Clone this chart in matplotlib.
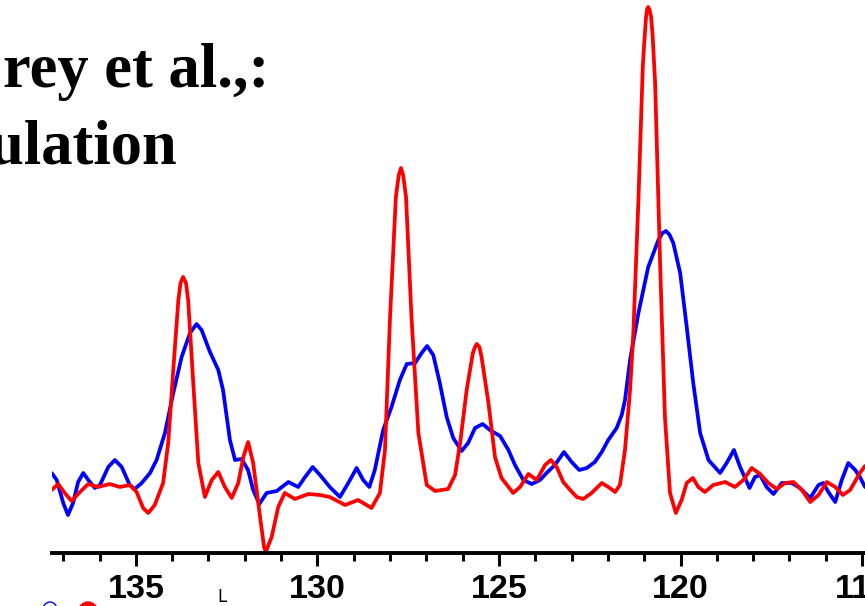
"""
Overlay of two carbon spectra in the 115-137 ppm region
"""

import matplotlib
matplotlib.use("Agg")
import matplotlib.pyplot as plt
from matplotlib.patches import Ellipse

# chemical shift (ppm) and intensity (arb. units), blue trace
blue_ppm = [137.32, 137.18, 137.00, 136.87, 136.73, 136.59, 136.45, 136.31, 136.13, 135.99,
            135.76, 135.58, 135.39, 135.17, 135.03, 134.84, 134.61, 134.43, 134.20, 133.97,
            133.74, 133.51, 133.33, 133.19, 132.96, 132.73, 132.60, 132.41, 132.27, 132.09,
            131.91, 131.77, 131.60, 131.40, 131.12, 130.80, 130.53, 130.34, 130.13, 129.93,
            129.66, 129.38, 129.15, 128.92, 128.74, 128.57, 128.42, 128.19, 127.96, 127.73,
            127.54, 127.31, 127.13, 126.98, 126.81, 126.63, 126.44, 126.26, 126.03, 125.85,
            125.66, 125.45, 125.25, 124.97, 124.74, 124.56, 124.33, 124.10, 123.87, 123.69,
            123.46, 123.21, 123.00, 122.79, 122.58, 122.36, 122.17, 121.99, 121.76, 121.62,
            121.53, 121.39, 121.16, 120.89, 120.61, 120.50, 120.40, 120.30, 120.20, 120.01,
            119.83, 119.65, 119.46, 119.23, 118.91, 118.73, 118.53, 118.36, 118.10, 117.95,
            117.81, 117.63, 117.44, 117.21, 116.94, 116.71, 116.43, 116.20, 116.07, 115.93,
            115.74, 115.56, 115.38, 115.19, 115.06, 114.92]
blue_int = [0.80, 0.73, 0.50, 0.38, 0.50, 0.71, 0.80, 0.73, 0.65, 0.68,
            0.86, 0.93, 0.86, 0.68, 0.64, 0.70, 0.80, 0.93, 1.20, 1.60,
            1.96, 2.20, 2.29, 2.23, 2.01, 1.83, 1.63, 1.13, 0.93, 0.94,
            0.83, 0.63, 0.49, 0.60, 0.62, 0.71, 0.66, 0.76, 0.86, 0.78,
            0.66, 0.56, 0.70, 0.85, 0.73, 0.66, 0.83, 1.23, 1.46, 1.73,
            1.89, 1.90, 2.00, 2.07, 1.98, 1.70, 1.36, 1.15, 1.02, 1.10,
            1.25, 1.29, 1.23, 1.17, 1.03, 0.88, 0.73, 0.69, 0.73, 0.80,
            0.88, 1.01, 0.91, 0.83, 0.85, 0.91, 1.01, 1.13, 1.25, 1.38,
            1.53, 1.93, 2.40, 2.86, 3.13, 3.20, 3.22, 3.18, 3.10, 2.80,
            2.26, 1.70, 1.20, 0.93, 0.80, 0.90, 1.03, 0.86, 0.65, 0.76,
            0.78, 0.66, 0.59, 0.70, 0.70, 0.65, 0.55, 0.68, 0.70, 0.61,
            0.51, 0.73, 0.90, 0.83, 0.76, 0.66]

# red trace
red_ppm = [137.32, 137.14, 136.96, 136.77, 136.54, 136.31, 136.04, 135.72, 135.44, 135.17,
           134.98, 134.80, 134.66, 134.48, 134.25, 134.11, 133.97, 133.83, 133.77, 133.70,
           133.62, 133.56, 133.42, 133.28, 133.10, 132.91, 132.73, 132.55, 132.36, 132.18,
           132.04, 131.91, 131.77, 131.58, 131.47, 131.42, 131.37, 131.26, 131.08, 130.90,
           130.62, 130.25, 129.93, 129.66, 129.24, 128.88, 128.51, 128.28, 128.14, 128.00,
           127.84, 127.76, 127.70, 127.64, 127.56, 127.41, 127.22, 126.99, 126.76, 126.40,
           126.21, 126.07, 125.89, 125.72, 125.66, 125.61, 125.54, 125.48, 125.29, 125.11,
           124.93, 124.61, 124.42, 124.19, 123.96, 123.73, 123.57, 123.41, 123.23, 123.04,
           122.86, 122.68, 122.45, 122.17, 121.99, 121.80, 121.67, 121.53, 121.39, 121.30,
           121.16, 121.04, 121.00, 120.95, 120.92, 120.89, 120.86, 120.81, 120.77, 120.70,
           120.56, 120.43, 120.29, 120.13, 119.97, 119.83, 119.66, 119.51, 119.33, 119.10,
           118.77, 118.50, 118.27, 118.04, 117.81, 117.58, 117.35, 117.12, 116.89, 116.66,
           116.43, 116.20, 115.97, 115.74, 115.53, 115.33, 115.06, 114.92]
red_int = [0.63, 0.69, 0.60, 0.52, 0.61, 0.69, 0.66, 0.69, 0.66, 0.68,
           0.61, 0.45, 0.40, 0.48, 0.70, 1.10, 1.83, 2.53, 2.70, 2.76,
           2.70, 2.53, 1.70, 0.90, 0.56, 0.73, 0.81, 0.66, 0.55, 0.70,
           0.96, 1.11, 0.90, 0.36, 0.06, 0.01, 0.06, 0.16, 0.46, 0.60,
           0.54, 0.59, 0.58, 0.56, 0.48, 0.53, 0.45, 0.60, 1.03, 2.36,
           3.56, 3.78, 3.85, 3.78, 3.56, 2.36, 1.20, 0.68, 0.62, 0.64,
           0.78, 1.10, 1.63, 2.00, 2.06, 2.09, 2.06, 1.96, 1.50, 0.96,
           0.75, 0.60, 0.66, 0.79, 0.73, 0.88, 0.93, 0.86, 0.71, 0.63,
           0.56, 0.54, 0.60, 0.70, 0.66, 0.61, 0.68, 1.03, 1.63, 2.20,
           3.53, 4.86, 5.10, 5.36, 5.44, 5.46, 5.44, 5.36, 5.18, 4.70,
           2.86, 1.36, 0.60, 0.40, 0.53, 0.70, 0.75, 0.66, 0.61, 0.68,
           0.71, 0.66, 0.73, 0.85, 0.79, 0.70, 0.64, 0.70, 0.71, 0.63,
           0.51, 0.58, 0.71, 0.66, 0.58, 0.63, 0.80, 0.87]

major_ticks = [135, 130, 125, 120, 115]
minor_ticks = list(range(116, 138))

W, H = 865, 606


def plot_spectra():
    fig = plt.figure(figsize=(W / 100, H / 100), dpi=100)
    ax = fig.add_axes([52 / W, 53 / H, 1 - 52 / W, 1 - 53 / H])

    ax.plot(blue_ppm, blue_int, color="#0000ff", linewidth=2.7,
            solid_joinstyle="round", solid_capstyle="round")
    ax.plot(red_ppm, red_int, color="#ff0000", linewidth=2.7,
            solid_joinstyle="round", solid_capstyle="round")

    ax.set_xlim(137.31, 114.92)
    ax.set_ylim(0, 5.53)

    for side in ("top", "left", "right"):
        ax.spines[side].set_visible(False)
    ax.spines["bottom"].set_linewidth(2.8)
    ax.set_yticks([])

    ax.set_xticks(major_ticks)
    ax.set_xticks(minor_ticks, minor=True)
    ax.tick_params(axis="x", which="major", length=9, width=2.2, pad=6)
    ax.tick_params(axis="x", which="minor", length=6, width=2.2)
    for lab in ax.get_xticklabels():
        lab.set_fontfamily("Liberation Sans")
        lab.set_fontweight("bold")
        lab.set_fontsize(24.5)
    ax.patch.set_visible(False)

    # title lines running off the left edge
    title_font = dict(family="Liberation Serif", weight="bold", size=45,
                      ha="right", va="baseline")
    fig.text(269 / W, 1 - 87 / H, "rey et al.,:", **title_font)
    fig.text(177 / W, 1 - 163 / H, "ulation", **title_font)

    # pieces below the axis
    fig.text(222 / W, 1 - 606 / H, "L", fontsize=12, ha="center", va="bottom")
    fig.add_artist(Ellipse((88 / W, -10 / H), 22 / W, 28 / H, color="#ff0000",
                           transform=fig.transFigure))
    fig.add_artist(Ellipse((50 / W, -4 / H), 14 / W, 16 / H, fill=False,
                           edgecolor="#0000ff", linewidth=1, transform=fig.transFigure))

    fig.savefig("out.png", dpi=100)


plot_spectra()
